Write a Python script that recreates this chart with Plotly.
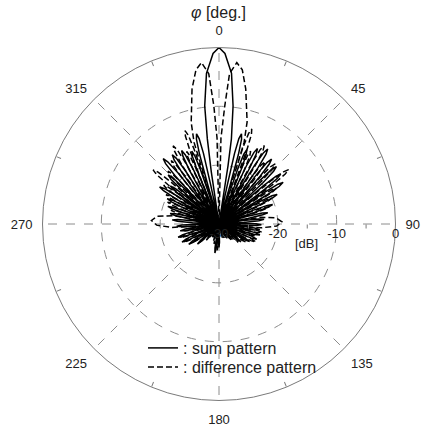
import plotly.graph_objects as go

# ---------------- data ----------------
ang_ticks = [0, 45, 90, 135, 180, 225, 270, 315]
minor_ang_ticks = [22.5, 67.5, 112.5, 157.5, 202.5, 247.5, 292.5, 337.5]
r_ticks = [-30, -20, -10, 0]
r_minor_ticks = [-25, -15, -5]

# sum pattern: main lobe contour
sum_main_theta = [-9.0, -8.4, -7.8, -6.9, -4.75, -2.0, 0.0, 2.0, 4.75, 6.8, 8.3, 8.8, 9.3]
sum_main_db = [-30, -21.0, -15.4, -9.8, -4.3, -1.0, 0.0, -1.0, -4.3, -9.8, -15.4, -20.0, -30]
# sum pattern: side / back lobes (peak angle, peak level, half width)
sum_lobe_theta = [-172, -162, -152, -142, -133, -124, -116, -108, -100, -93,
                  -85, -78, -71, -64, -58, -52, -46, -40.5, -34, -27, -20.5, -14,
                  14, 20.5, 27, 33, 39, 45, 51, 57, 63, 70, 77, 84, 91,
                  98, 105, 112, 120, 129, 139, 150, 162, 180]
sum_lobe_db = [-25.0, -27.0, -27.5, -26.5, -25.0, -23.8, -23.0, -22.7, -23.3, -22.8,
               -22.0, -21.5, -20.8, -20.2, -18.1, -19.5, -18.0, -15.4, -15.8, -16.0, -16.8, -14.2,
               -14.2, -16.5, -15.6, -14.8, -15.8, -16.2, -16.5, -17.0, -18.9, -20.3, -21.5, -22.3, -22.8,
               -23.0, -22.8, -23.1, -24.0, -25.2, -26.5, -27.2, -27.5, -26.0]
sum_lobe_hw = [3.5, 3.5, 3.5, 3.5, 3.5, 3.5, 3.5, 3.5, 3.2, 3.0,
               2.8, 2.6, 2.5, 2.4, 2.3, 2.2, 2.2, 2.2, 2.2, 2.2, 2.1, 2.0,
               2.0, 2.1, 2.2, 2.2, 2.2, 2.2, 2.2, 2.2, 2.3, 2.4, 2.6, 2.8, 3.0,
               3.2, 3.5, 3.5, 3.5, 3.5, 3.5, 3.5, 3.5, 3.5]

# difference pattern: twin main lobes contour
diff_main_theta = [-17.8, -17.0, -15.3, -11.3, -8.5, -6.2, -3.9, -2.5, -1.3, -0.4,
                   0.4, 1.3, 2.8, 4.0, 6.3, 8.6, 11.2, 15.4, 17.1, 17.9]
diff_main_db = [-30, -15.5, -12.1, -6.6, -3.5, -2.4, -4.4, -9.9, -15.4, -30,
                -30, -15.4, -9.9, -4.4, -2.4, -3.5, -6.6, -12.0, -15.5, -30]
# difference pattern: side / back lobes
diff_lobe_theta = [-166, -155, -144, -134, -125, -117, -109, -101, -87,
                   -74, -67, -61, -55, -50.6, -44, -37, -30.4, -24, -20,
                   19, 23.5, 30, 36.5, 43, 52, 58, 64, 71, 88,
                   101, 108, 116, 124, 133, 143, 154, 166, 184]
diff_lobe_db = [-26.5, -27.5, -27.0, -25.8, -24.5, -23.2, -23.0, -24.0, -18.5,
                -21.5, -20.5, -19.7, -18.5, -15.5, -17.5, -16.5, -14.6, -16.5, -13.1,
                -12.9, -16.5, -14.6, -16.8, -16.0, -15.0, -18.5, -20.0, -21.0, -19.3,
                -22.5, -23.5, -23.0, -24.5, -25.5, -26.5, -27.5, -27.5, -25.5]
diff_lobe_hw = [3.5, 3.5, 3.5, 3.5, 3.5, 3.5, 3.5, 3.5, 9.0,
                2.6, 2.4, 2.3, 2.2, 2.2, 2.2, 2.2, 2.2, 2.0, 2.0,
                2.0, 2.0, 2.2, 2.2, 2.2, 2.2, 2.3, 2.4, 2.6, 9.0,
                3.5, 3.5, 3.5, 3.5, 3.5, 3.5, 3.5, 3.5, 3.5]

R_MIN = -30
# petal outline (style): (fraction of half width, dB below peak)
PETAL = [(-1.0, 9.0), (-0.8, 3.5), (-0.45, 0.9), (0.0, 0.0), (0.45, 0.9), (0.8, 3.5), (1.0, 9.0)]


def build_path(main_t, main_r, lob_t, lob_r, lob_hw):
    segs = [(0.0, list(zip(main_t, main_r)))]
    for a, L, hw in zip(lob_t, lob_r, lob_hw):
        segs.append((a, [(a + f * hw, max(L - d, R_MIN)) for f, d in PETAL]))
    segs.sort(key=lambda s: s[0])
    th, rr = [], []
    for a, pts in segs:
        th.append(a); rr.append(R_MIN)
        for t, r in pts:
            th.append(t); rr.append(r)
    th.append(segs[0][0]); rr.append(R_MIN)
    return th, rr


sum_t, sum_r = build_path(sum_main_theta, sum_main_db, sum_lobe_theta, sum_lobe_db, sum_lobe_hw)
diff_t, diff_r = build_path(diff_main_theta, diff_main_db, diff_lobe_theta, diff_lobe_db, diff_lobe_hw)

FONT = "Liberation Sans, Arial, sans-serif"

fig = go.Figure()
fig.add_trace(go.Scatterpolar(r=diff_r, theta=diff_t, mode="lines", name=": difference pattern",
                              legend="legend2",
                              line=dict(color="black", width=1.5, dash="6px,3px")))
fig.add_trace(go.Scatterpolar(r=sum_r, theta=sum_t, mode="lines", name=": sum pattern",
                              legend="legend",
                              line=dict(color="black", width=1.5)))
fig.add_trace(go.Scatterpolar(r=[], theta=[], subplot="polar2", showlegend=False))

dom_x = [42.5 / 422, 395.5 / 422]
dom_y = [1 - 400.5 / 428, 1 - 47.5 / 428]

leg_common = dict(xanchor="left", yanchor="top", bgcolor="rgba(0,0,0,0)",
                  font=dict(size=16, color="#222"), itemwidth=30)

fig.update_layout(
    width=422, height=428,
    margin=dict(l=0, r=0, t=0, b=0),
    paper_bgcolor="white",
    font=dict(family=FONT, size=13, color="#222"),
    showlegend=True,
    legend=dict(x=143 / 422, y=1 - 331 / 428, **leg_common),
    legend2=dict(x=143 / 422, y=1 - 350 / 428, **leg_common),
    polar=dict(
        domain=dict(x=dom_x, y=dom_y),
        bgcolor="white",
        angularaxis=dict(rotation=90, direction="clockwise", tickmode="array",
                         tickvals=ang_ticks, ticktext=[str(v) for v in ang_ticks],
                         showgrid=True, gridcolor="#8c8c8c", gridwidth=1, griddash="dash",
                         showline=True, linecolor="#7a7a7a", linewidth=1,
                         ticks="outside", ticklen=7, tickcolor="rgba(0,0,0,0)",
                         tickfont=dict(size=13, color="#222")),
        radialaxis=dict(range=[-30, 0], angle=0, side="clockwise", tickmode="array",
                        tickvals=r_ticks, ticktext=[str(v) for v in r_ticks],
                        showgrid=True, gridcolor="#8c8c8c", gridwidth=1, griddash="dash",
                        showline=False, ticks="",
                        tickfont=dict(size=13, color="#222")),
    ),
    polar2=dict(
        domain=dict(x=dom_x, y=dom_y),
        bgcolor="rgba(0,0,0,0)",
        angularaxis=dict(rotation=90, direction="clockwise", tickmode="array",
                         tickvals=minor_ang_ticks, showticklabels=False,
                         showgrid=False, showline=False, ticks="inside", ticklen=5,
                         tickcolor="#7a7a7a"),
        radialaxis=dict(range=[-30, 0], angle=0, side="clockwise", tickmode="array",
                        tickvals=r_minor_ticks, showticklabels=False,
                        showgrid=False, showline=False, ticks="outside", ticklen=4,
                        tickcolor="#7a7a7a"),
    ),
    annotations=[
        dict(text="<i>φ</i> [deg.]", x=218 / 422, y=1 - 12 / 428, xref="paper", yref="paper",
             showarrow=False, font=dict(size=16, color="#222"), xanchor="center", yanchor="middle"),
        dict(text="[dB]", x=306 / 422, y=1 - 244 / 428, xref="paper", yref="paper",
             showarrow=False, font=dict(size=13, color="#222"), xanchor="center", yanchor="middle"),
    ],
)

fig.write_html("out.html")
